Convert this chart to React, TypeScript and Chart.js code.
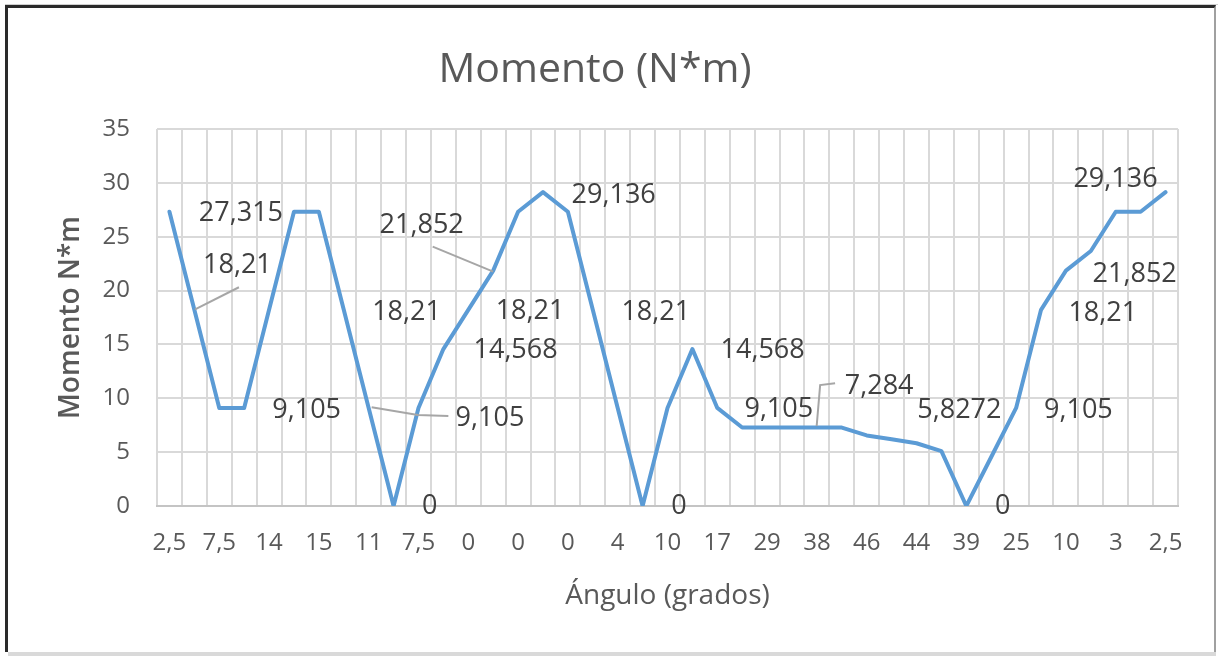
import React, { useEffect, useRef } from 'react';
import { Chart, registerables } from 'chart.js';

Chart.register(...registerables);

// Category labels (angle, degrees). Only every other one is visible in the reference;
// the odd ones are hidden by the axis (their values are not readable).
const categories = [
  '2,5', '5', '7,5', '10', '14', '15', '15', '13', '11', '9',
  '7,5', '4', '0', '0', '0', '1', '0', '2', '4', '7',
  '10', '14', '17', '23', '29', '34', '38', '42', '46', '45',
  '44', '42', '39', '32', '25', '18', '10', '6', '3', '2,7',
  '2,5',
];
const labelEvery = 2;

// Moment values (N*m)
const momento = [
  27.315, 18.21, 9.105, 9.105, 18.21, 27.315, 27.315, 18.21, 9.105, 0,
  9.105, 14.568, 18.21, 21.852, 27.315, 29.136, 27.315, 18.21, 9.105, 0,
  9.105, 14.568, 9.105, 7.284, 7.284, 7.284, 7.284, 7.284, 6.55, 6.19,
  5.8272, 5.1, 0, 4.55, 9.105, 18.21, 21.852, 23.67, 27.315, 27.315,
  29.136,
];

const yMin = 0;
const yMax = 35;
const yStep = 5;

const titleText = 'Momento (N*m)';
const xTitle = 'Ángulo (grados)';
const yTitle = 'Momento N*m';

// Data labels as Excel placed them, in axis coordinates (category index, value)
const labelTexts = [
  '27,315', '18,21', '9,105', '18,21', '0', '21,852', '9,105', '14,568', '18,21',
  '29,136', '18,21', '0', '14,568', '9,105', '7,284', '5,8272', '0', '9,105',
  '18,21', '21,852', '29,136',
];
const labelX = [
  2.87, 2.73, 5.51, 9.52, 10.45, 10.13, 12.87, 13.9, 14.48,
  17.84, 19.53, 20.46, 23.82, 24.47, 28.5, 31.72, 33.46, 36.5,
  37.48, 38.76, 37.99,
];
const labelY = [
  27.18, 22.38, 8.91, 17.95, -0.06, 26.09, 8.14, 14.42, 18.04,
  28.88, 17.95, -0.06, 14.42, 8.98, 11.08, 8.91, -0.06, 8.91,
  17.89, 21.54, 30.33,
];
// Leader lines (polyline in axis coordinates)
const leaders: [number, number][][] = [
  [[2.79, 20.31], [1.03, 18.26]],
  [[10.57, 24.08], [13.0, 21.76]],
  [[8.12, 9.16], [9.98, 8.45], [11.2, 8.35]],
  [[25.99, 7.43], [26.13, 11.23], [26.73, 11.39]],
];

const FONT = "'Open Sans', sans-serif";

const overlayPlugin = {
  id: 'overlay',
  afterDatasetsDraw(chart: any) {
    const { ctx, scales } = chart;
    const xs = scales.x;
    const ys = scales.y;
    ctx.save();
    // leader lines
    ctx.strokeStyle = '#a6a6a6';
    ctx.lineWidth = 2;
    leaders.forEach((pts) => {
      ctx.beginPath();
      pts.forEach(([a, b], i) => {
        const px = xs.getPixelForValue(a);
        const py = ys.getPixelForValue(b);
        if (i === 0) ctx.moveTo(px, py);
        else ctx.lineTo(px, py);
      });
      ctx.stroke();
    });
    // labels
    ctx.fillStyle = '#404040';
    ctx.font = `27px ${FONT}`;
    ctx.textAlign = 'center';
    ctx.textBaseline = 'middle';
    labelTexts.forEach((t, i) => {
      ctx.fillText(t, xs.getPixelForValue(labelX[i]), ys.getPixelForValue(labelY[i]));
    });
    ctx.restore();
  },
  afterDraw(chart: any) {
    const { ctx } = chart;
    ctx.save();
    ctx.fillStyle = '#595959';
    ctx.font = `41px ${FONT}`;
    ctx.textAlign = 'center';
    ctx.textBaseline = 'alphabetic';
    ctx.fillText(titleText, 595, 82);
    ctx.restore();
  },
};

export default function App() {
  const ref = useRef<HTMLCanvasElement>(null);

  useEffect(() => {
    if (!ref.current) return;
    const chart = new Chart(ref.current, {
      type: 'line',
      data: {
        labels: categories,
        datasets: [
          {
            label: 'Momento',
            data: momento,
            borderColor: '#5B9BD5',
            backgroundColor: '#5B9BD5',
            borderWidth: 4,
            pointRadius: 0,
            tension: 0,
            borderJoinStyle: 'round',
            borderCapStyle: 'round',
          },
        ],
      },
      options: {
        responsive: false,
        animation: false,
        devicePixelRatio: 1,
        layout: { padding: { top: 129, right: 40, bottom: 0, left: 0 } },
        plugins: {
          legend: { display: false },
          title: { display: false },
          tooltip: { enabled: false },
        },
        scales: {
          x: {
            type: 'category',
            offset: true,
            grid: {
              offset: true,
              color: '#d9d9d9',
              lineWidth: 2,
              drawTicks: false,
            },
            border: { color: '#c4c4c4', width: 2 },
            ticks: {
              autoSkip: false,
              maxRotation: 0,
              minRotation: 0,
              padding: 23,
              color: '#595959',
              font: { family: FONT, size: 24 },
              callback: (_v: any, i: number) => (i % labelEvery === 0 ? categories[i] : ''),
            },
            title: {
              display: true,
              text: xTitle,
              color: '#595959',
              font: { family: FONT, size: 28 },
              padding: { top: 0, bottom: 46 },
            },
            afterFit: (s: any) => {
              s.height = 153;
            },
          },
          y: {
            min: yMin,
            max: yMax,
            grid: { color: '#d9d9d9', lineWidth: 2, drawTicks: false },
            border: { display: false },
            ticks: {
              stepSize: yStep,
              padding: 27,
              color: '#595959',
              font: { family: FONT, size: 24 },
            },
            title: {
              display: true,
              text: yTitle,
              color: '#595959',
              font: { family: FONT, size: 28, weight: '600' },
              padding: { top: 54, bottom: 0 },
            },
            afterFit: (s: any) => {
              s.width = 157;
            },
          },
        },
      },
      plugins: [overlayPlugin],
    });
    return () => chart.destroy();
  }, []);

  return (
    <div
      style={{
        position: 'fixed',
        left: 0,
        top: 0,
        width: 1218,
        height: 659,
        background: '#ffffff',
        overflow: 'hidden',
      }}
    >
      <div style={{ position: 'absolute', left: 5, top: 4, width: 1213, height: 1, background: '#cfcfcf' }} />
      <div
        style={{
          position: 'absolute',
          left: 5,
          top: 5,
          width: 1216 - 5,
          height: 652 - 5,
          borderLeft: '3px solid #2a2a2a',
          borderTop: '3px solid #2a2a2a',
          borderRight: '2px solid #a0a0a0',
          boxSizing: 'border-box',
        }}
      />
      <div style={{ position: 'absolute', left: 8, top: 652, width: 1208, height: 4, background: '#d9d9d9' }} />
      <canvas
        ref={ref}
        width={1218}
        height={659}
        style={{ position: 'absolute', left: 0, top: 0, width: 1218, height: 659 }}
      />
    </div>
  );
}
